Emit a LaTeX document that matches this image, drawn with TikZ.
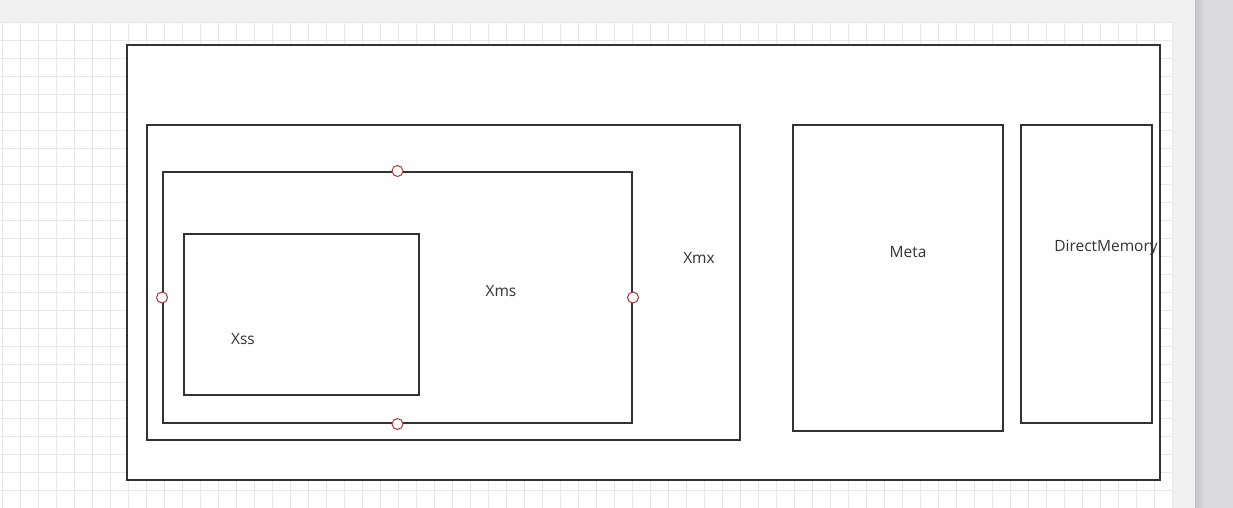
\documentclass[tikz,border=0pt]{standalone}
\usepackage{fontspec}
\setmainfont{Open Sans}
\definecolor{boxc}{HTML}{333333}
\definecolor{textc}{HTML}{333333}
\definecolor{portc}{HTML}{A03A3A}
\definecolor{gridc}{HTML}{E8E8E8}
\definecolor{bandc}{HTML}{F1F1F1}
\definecolor{stripc}{HTML}{DCDCE0}
\definecolor{shadc}{HTML}{C4C4C8}
\begin{document}
\begin{tikzpicture}[x=1pt,y=-1pt,
  box/.style={draw=boxc, line width=2pt, fill=white, anchor=north west, inner sep=0pt},
  lbl/.style={text=textc, font=\fontsize{15.5}{17}\selectfont, inner sep=0pt},
  port/.style={circle, draw=portc, fill=white, line width=1pt, minimum size=11pt, inner sep=0pt}]
\useasboundingbox (0,0) rectangle (1233,508);
% canvas background
\fill[white] (0,0) rectangle (1233,508);
\fill[bandc] (0,0) rectangle (1195,22);
\fill[bandc] (1172,0) rectangle (1195,508);
\fill[stripc] (1195,0) rectangle (1233,508);
\shade[left color=shadc, right color=stripc] (1195,0) rectangle (1205,508);
% grid
\foreach \i in {0,...,65} {
  \draw[gridc, line width=1pt] ({2+18*\i},22) -- ({2+18*\i},508);
}
\foreach \j in {0,...,27} {
  \draw[gridc, line width=1pt] (0,{22.5+18*\j}) -- (1172,{22.5+18*\j});
}
% boxes
\node[box, minimum width=1033pt, minimum height=435pt] (outer) at (126,44) {};
\node[box, minimum width=593pt, minimum height=315pt] (xmx) at (146,124) {};
\node[box, minimum width=469pt, minimum height=251pt] (xms) at (162,171) {};
\node[box, minimum width=235pt, minimum height=161pt] (xss) at (183,233) {};
\node[box, minimum width=210pt, minimum height=306pt] (meta) at (792,124) {};
\node[box, minimum width=131pt, minimum height=298pt] (dm) at (1020,124) {};
% labels
\node[lbl] (lxmx) at (699,258) {Xmx};
\node[lbl] (lxms) at (501,291) {Xms};
\node[lbl] (lxss) at (243,339) {Xss};
\node[lbl] (lmeta) at (908,252) {Meta};
\node[lbl] (ldm) at (1106,248) {DirectMemory};
% ports
\node[port] (pn) at (xms.north) {};
\node[port] (pw) at (xms.west) {};
\node[port] (pe) at (xms.east) {};
\node[port] (ps) at (xms.south) {};
\end{tikzpicture}
\end{document}
